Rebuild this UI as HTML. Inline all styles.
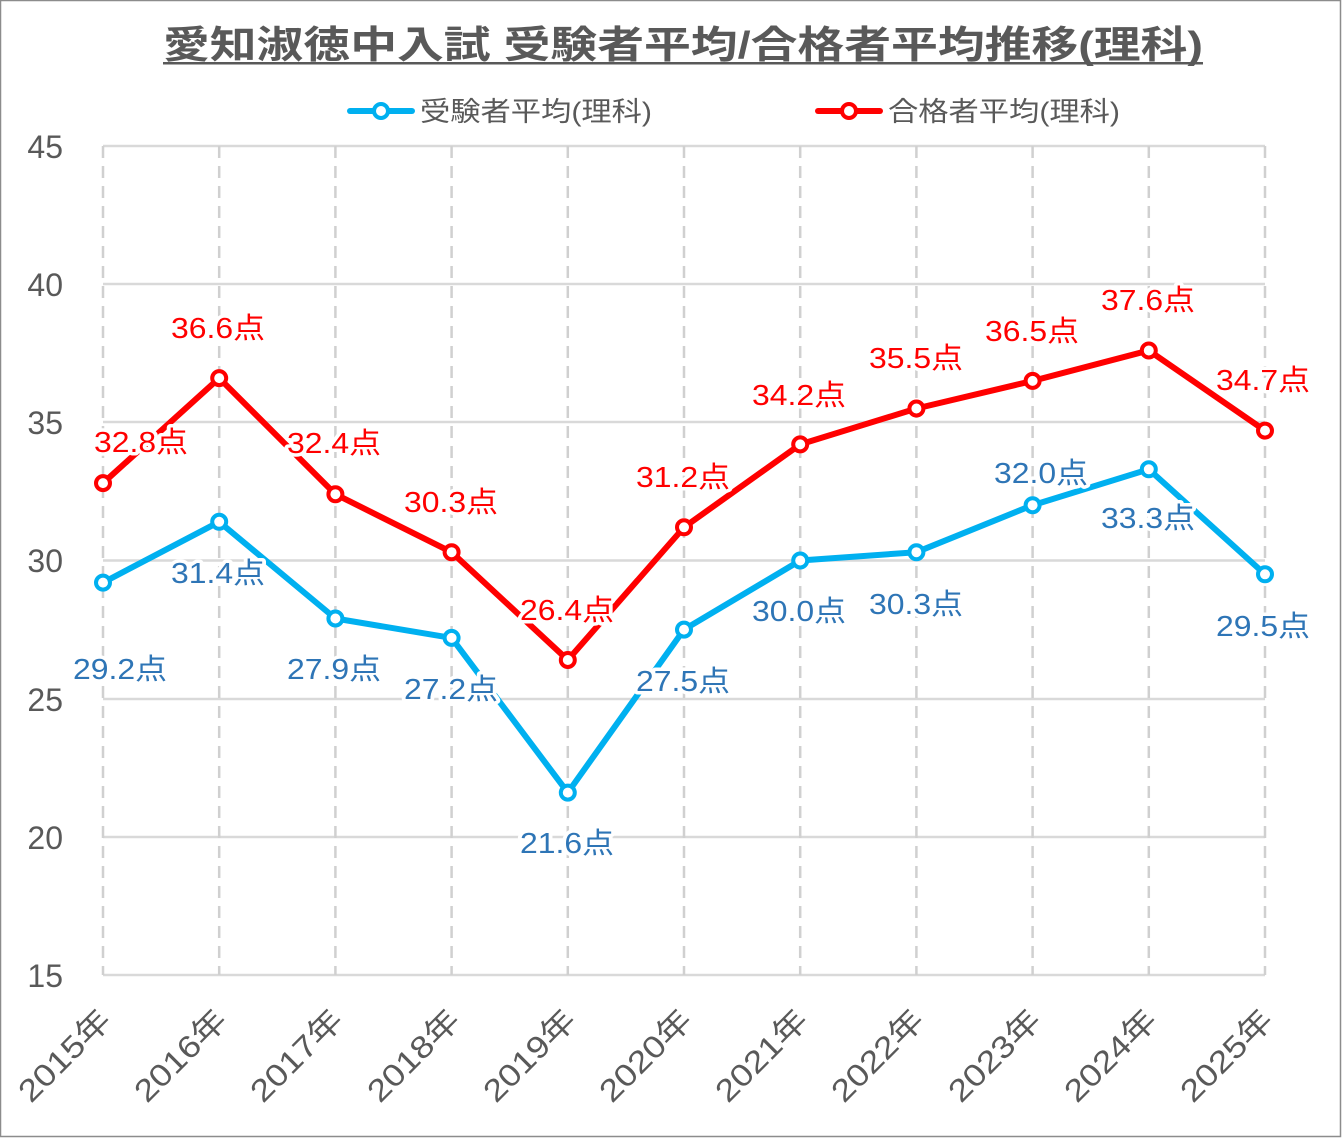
<!DOCTYPE html>
<html><head><meta charset="utf-8"><style>
html,body{margin:0;padding:0;background:#fff;}
svg{display:block;}
text{font-family:"Liberation Sans","Noto Sans CJK JP",sans-serif;}
</style></head><body>
<svg width="1343" height="1139" viewBox="0 0 1343 1139" xmlns="http://www.w3.org/2000/svg">
<rect x="0.5" y="0.5" width="1340" height="1136" fill="#fff" stroke="#8c8c8c" stroke-width="1.5"/>
<text x="163" y="58" font-size="38" font-weight="bold" fill="#595959" textLength="1040" lengthAdjust="spacingAndGlyphs">愛知淑徳中入試 受験者平均/合格者平均推移(理科)</text>
<rect x="163" y="62" width="1040" height="2.5" fill="#595959"/>
<line x1="350" y1="111" x2="412" y2="111" stroke="#00b0f0" stroke-width="6" stroke-linecap="round"/>
<circle cx="381" cy="111" r="7" fill="#fff" stroke="#00b0f0" stroke-width="4"/>
<text x="420" y="121" font-size="27" fill="#595959" textLength="232" lengthAdjust="spacingAndGlyphs">受験者平均(理科)</text>
<line x1="818" y1="111" x2="880" y2="111" stroke="#ff0000" stroke-width="6" stroke-linecap="round"/>
<circle cx="849" cy="111" r="7" fill="#fff" stroke="#ff0000" stroke-width="4"/>
<text x="888" y="121" font-size="27" fill="#595959" textLength="232" lengthAdjust="spacingAndGlyphs">合格者平均(理科)</text>
<g stroke="#d9d9d9" stroke-width="2.5">
<line x1="103" y1="146" x2="1265" y2="146"/>
<line x1="103" y1="284" x2="1265" y2="284"/>
<line x1="103" y1="422" x2="1265" y2="422"/>
<line x1="103" y1="560.5" x2="1265" y2="560.5"/>
<line x1="103" y1="699" x2="1265" y2="699"/>
<line x1="103" y1="837" x2="1265" y2="837"/>
<line x1="103" y1="975" x2="1265" y2="975"/>
</g>
<g stroke="#d0d0d0" stroke-width="2.5" stroke-dasharray="12,8">
<line x1="103" y1="146" x2="103" y2="975"/>
<line x1="219.2" y1="146" x2="219.2" y2="975"/>
<line x1="335.4" y1="146" x2="335.4" y2="975"/>
<line x1="451.6" y1="146" x2="451.6" y2="975"/>
<line x1="567.8" y1="146" x2="567.8" y2="975"/>
<line x1="684" y1="146" x2="684" y2="975"/>
<line x1="800.2" y1="146" x2="800.2" y2="975"/>
<line x1="916.4" y1="146" x2="916.4" y2="975"/>
<line x1="1032.6" y1="146" x2="1032.6" y2="975"/>
<line x1="1148.8" y1="146" x2="1148.8" y2="975"/>
<line x1="1265" y1="146" x2="1265" y2="975"/>
</g>
<g font-size="32" fill="#595959" text-anchor="end">
<text x="63" y="158">45</text>
<text x="63" y="296">40</text>
<text x="63" y="434">35</text>
<text x="63" y="572">30</text>
<text x="63" y="711">25</text>
<text x="63" y="849">20</text>
<text x="63" y="987">15</text>
</g>
<g font-size="31" fill="#595959" text-anchor="end">
<text transform="translate(113,1022) rotate(-45)" textLength="116" lengthAdjust="spacingAndGlyphs">2015年</text>
<text transform="translate(229,1022) rotate(-45)" textLength="116" lengthAdjust="spacingAndGlyphs">2016年</text>
<text transform="translate(345,1022) rotate(-45)" textLength="116" lengthAdjust="spacingAndGlyphs">2017年</text>
<text transform="translate(462,1022) rotate(-45)" textLength="116" lengthAdjust="spacingAndGlyphs">2018年</text>
<text transform="translate(578,1022) rotate(-45)" textLength="116" lengthAdjust="spacingAndGlyphs">2019年</text>
<text transform="translate(694,1022) rotate(-45)" textLength="116" lengthAdjust="spacingAndGlyphs">2020年</text>
<text transform="translate(810,1022) rotate(-45)" textLength="116" lengthAdjust="spacingAndGlyphs">2021年</text>
<text transform="translate(926,1022) rotate(-45)" textLength="116" lengthAdjust="spacingAndGlyphs">2022年</text>
<text transform="translate(1043,1022) rotate(-45)" textLength="116" lengthAdjust="spacingAndGlyphs">2023年</text>
<text transform="translate(1159,1022) rotate(-45)" textLength="116" lengthAdjust="spacingAndGlyphs">2024年</text>
<text transform="translate(1275,1022) rotate(-45)" textLength="116" lengthAdjust="spacingAndGlyphs">2025年</text>
</g>
<polyline fill="none" stroke="#ff0000" stroke-width="6" stroke-linejoin="round" points="103,483.1 219.2,378.1 335.4,494.2 451.6,552.2 567.8,660 684,527.3 800.2,444.4 916.4,408.5 1032.6,380.9 1148.8,350.5 1265,430.6"/>
<polyline fill="none" stroke="#00b0f0" stroke-width="6" stroke-linejoin="round" points="103,582.6 219.2,521.8 335.4,618.5 451.6,637.9 567.8,792.6 684,629.6 800.2,560.5 916.4,552.2 1032.6,505.2 1148.8,469.3 1265,574.3"/>
<g fill="#fff" stroke="#ff0000" stroke-width="4">
<circle cx="103" cy="483.1" r="7"/><circle cx="219.2" cy="378.1" r="7"/><circle cx="335.4" cy="494.2" r="7"/><circle cx="451.6" cy="552.2" r="7"/><circle cx="567.8" cy="660" r="7"/><circle cx="684" cy="527.3" r="7"/><circle cx="800.2" cy="444.4" r="7"/><circle cx="916.4" cy="408.5" r="7"/><circle cx="1032.6" cy="380.9" r="7"/><circle cx="1148.8" cy="350.5" r="7"/><circle cx="1265" cy="430.6" r="7"/>
</g>
<g fill="#fff" stroke="#00b0f0" stroke-width="4">
<circle cx="103" cy="582.6" r="7"/><circle cx="219.2" cy="521.8" r="7"/><circle cx="335.4" cy="618.5" r="7"/><circle cx="451.6" cy="637.9" r="7"/><circle cx="567.8" cy="792.6" r="7"/><circle cx="684" cy="629.6" r="7"/><circle cx="800.2" cy="560.5" r="7"/><circle cx="916.4" cy="552.2" r="7"/><circle cx="1032.6" cy="505.2" r="7"/><circle cx="1148.8" cy="469.3" r="7"/><circle cx="1265" cy="574.3" r="7"/>
</g>
<g font-size="29" text-anchor="middle" fill="#ff0000" stroke="#fff" stroke-width="7" paint-order="stroke" stroke-linejoin="round">
<text x="141" y="452" textLength="94" lengthAdjust="spacingAndGlyphs">32.8点</text>
<text x="218" y="338" textLength="94" lengthAdjust="spacingAndGlyphs">36.6点</text>
<text x="334" y="453" textLength="94" lengthAdjust="spacingAndGlyphs">32.4点</text>
<text x="451" y="512" textLength="94" lengthAdjust="spacingAndGlyphs">30.3点</text>
<text x="567" y="620" textLength="94" lengthAdjust="spacingAndGlyphs">26.4点</text>
<text x="683" y="487" textLength="94" lengthAdjust="spacingAndGlyphs">31.2点</text>
<text x="799" y="405" textLength="94" lengthAdjust="spacingAndGlyphs">34.2点</text>
<text x="916" y="368" textLength="94" lengthAdjust="spacingAndGlyphs">35.5点</text>
<text x="1032" y="341" textLength="94" lengthAdjust="spacingAndGlyphs">36.5点</text>
<text x="1148" y="310" textLength="94" lengthAdjust="spacingAndGlyphs">37.6点</text>
<text x="1263" y="390" textLength="94" lengthAdjust="spacingAndGlyphs">34.7点</text>
</g>
<g font-size="29" text-anchor="middle" fill="#2e75b6" stroke="#fff" stroke-width="7" paint-order="stroke" stroke-linejoin="round">
<text x="120" y="679" textLength="94" lengthAdjust="spacingAndGlyphs">29.2点</text>
<text x="218" y="583" textLength="94" lengthAdjust="spacingAndGlyphs">31.4点</text>
<text x="334" y="679" textLength="94" lengthAdjust="spacingAndGlyphs">27.9点</text>
<text x="451" y="699" textLength="94" lengthAdjust="spacingAndGlyphs">27.2点</text>
<text x="567" y="853" textLength="94" lengthAdjust="spacingAndGlyphs">21.6点</text>
<text x="683" y="691" textLength="94" lengthAdjust="spacingAndGlyphs">27.5点</text>
<text x="799" y="621" textLength="94" lengthAdjust="spacingAndGlyphs">30.0点</text>
<text x="916" y="614" textLength="94" lengthAdjust="spacingAndGlyphs">30.3点</text>
<text x="1041" y="483" textLength="94" lengthAdjust="spacingAndGlyphs">32.0点</text>
<text x="1148" y="528" textLength="94" lengthAdjust="spacingAndGlyphs">33.3点</text>
<text x="1263" y="636" textLength="94" lengthAdjust="spacingAndGlyphs">29.5点</text>
</g>
</svg>
</body></html>
